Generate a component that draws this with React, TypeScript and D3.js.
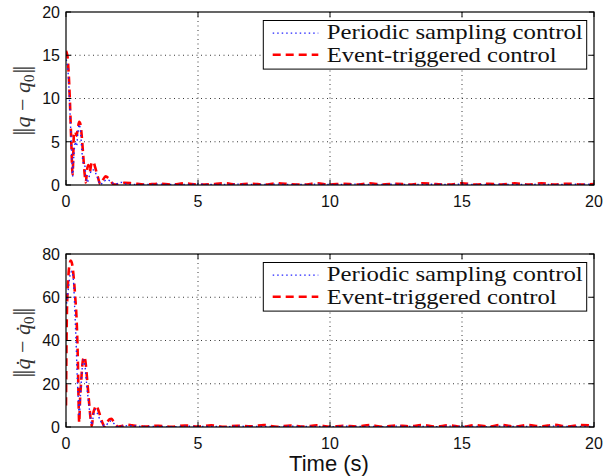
import React from 'react';
import * as d3 from 'd3';

const xTicks = [0, 5, 10, 15, 20];
const topYTicks = [0, 5, 10, 15, 20];
const botYTicks = [0, 20, 40, 60, 80];
const legendLabels = ['Periodic sampling control', 'Event-triggered control'];

const tailT = [2.5, 3, 3.5, 4, 4.5, 5, 5.5, 6, 6.5, 7, 7.5, 8, 8.5, 9, 9.5, 10, 10.5, 11, 11.5, 12, 12.5, 13, 13.5, 14, 14.5, 15, 15.5, 16, 16.5, 17, 17.5, 18, 18.5, 19, 19.5, 20];

// top panel ||q - q0||
const topPeriodicT = [0, 0.05, 0.1, 0.15, 0.2, 0.25, 0.3, 0.35, 0.4, 0.45, 0.5, 0.55, 0.6, 0.65, 0.7, 0.75, 0.8, 0.9, 1.0, 1.1, 1.2, 1.3, 1.4, 1.55, 1.7, 1.85, 2.1, 2.3];
const topPeriodicV = [14.5, 14, 12, 8.5, 4.8, 1.0, 3.5, 5.0, 4.5, 6.0, 7.0, 6.2, 4.0, 2.6, 2.5, 1.2, 0.3, 1.2, 1.8, 1.5, 0.8, 0.05, 0.3, 0.6, 0.4, 0.1, 0.3, 0.1];
const topPeriodicTail = [0.05, 0.05, 0.1, 0.05, 0.05, 0.1, 0.05, 0.05, 0.1, 0.05, 0.05, 0.1, 0.05, 0.05, 0.1, 0.05, 0.05, 0.1, 0.05, 0.05, 0.1, 0.05, 0.05, 0.1, 0.05, 0.1, 0.05, 0.05, 0.1, 0.05, 0.05, 0.1, 0.05, 0.05, 0.1, 0.05];

const topEventT = [0, 0.05, 0.1, 0.15, 0.2, 0.25, 0.3, 0.35, 0.4, 0.45, 0.5, 0.55, 0.6, 0.65, 0.7, 0.75, 0.8, 0.85, 0.9, 0.95, 1.0, 1.05, 1.1, 1.2, 1.3, 1.4, 1.5, 1.6, 1.7, 1.8, 1.9, 2.0, 2.2];
const topEventV = [15.5, 15, 13, 9.5, 5, 1.2, 5.8, 6.2, 5.7, 6.6, 7.3, 7.0, 5.5, 3.5, 1.5, 0.3, 1.8, 2.3, 1.5, 2.3, 2.7, 2.6, 2.1, 1.0, 0.1, 0.6, 1.0, 0.8, 0.4, 0.1, 0.05, 0.1, 0.25];
const topEventTail = [0.2, 0.05, 0.15, 0.05, 0.2, 0.05, 0.1, 0.2, 0.05, 0.15, 0.05, 0.2, 0.1, 0.05, 0.2, 0.05, 0.15, 0.05, 0.2, 0.05, 0.15, 0.05, 0.2, 0.1, 0.05, 0.2, 0.05, 0.15, 0.05, 0.2, 0.05, 0.2, 0.05, 0.15, 0.05, 0.1];

// bottom panel ||qdot - qdot0||
const botPeriodicT = [0, 0.05, 0.1, 0.15, 0.22, 0.28, 0.33, 0.38, 0.43, 0.47, 0.5, 0.55, 0.6, 0.66, 0.72, 0.78, 0.85, 0.92, 0.97, 1.05, 1.12, 1.2, 1.3, 1.4, 1.5, 1.6, 1.7, 1.8, 1.95, 2.2];
const botPeriodicV = [55, 60, 65, 70, 72, 68, 55, 40, 22, 12, 5, 15, 25, 31, 28, 20, 12, 5, 1, 6, 8, 6, 3, 1, 0.5, 2, 2.8, 1.8, 0.3, 0.5];
const botPeriodicTail = [0.6, 0.2, 0.3, 0.1, 0.4, 0.2, 0.3, 0.1, 0.4, 0.2, 0.3, 0.1, 0.4, 0.2, 0.3, 0.1, 0.4, 0.2, 0.3, 0.1, 0.4, 0.2, 0.3, 0.1, 0.4, 0.2, 0.3, 0.1, 0.4, 0.2, 0.3, 0.1, 0.4, 0.2, 0.3, 0.2];

const botEventT = [0, 0.03, 0.07, 0.12, 0.18, 0.25, 0.3, 0.35, 0.4, 0.45, 0.48, 0.5, 0.53, 0.58, 0.63, 0.69, 0.75, 0.8, 0.87, 0.93, 0.98, 1.03, 1.1, 1.15, 1.22, 1.3, 1.38, 1.46, 1.55, 1.65, 1.72, 1.8, 1.9, 1.97, 2.1, 2.3];
const botEventV = [10, 50, 65, 74, 77, 74, 68, 60, 50, 30, 10, 2, 12, 22, 30, 32.5, 29, 22, 12, 4, 0.5, 6, 9, 10, 8, 5, 2, 0.3, 2, 3.6, 3.8, 2.5, 0.8, 0.1, 0.4, 1.1];
const botEventTail = [0.8, 0.2, 0.6, 0.1, 0.7, 0.2, 0.8, 0.1, 0.6, 0.3, 0.9, 0.1, 0.7, 0.2, 0.8, 0.1, 0.6, 0.2, 0.9, 0.1, 0.7, 0.3, 0.9, 0.2, 0.8, 0.1, 0.9, 0.2, 1.0, 0.2, 0.9, 0.3, 1.0, 0.2, 0.9, 0.6];

const L = 66, R = 594;
const x = d3.scaleLinear().domain([0, 20]).range([L, R]);

function pts(t: number[], v: number[], tail: number[]) {
  const a = t.map((tt, i) => [tt, v[i]] as [number, number]);
  tailT.forEach((tt, i) => a.push([tt, tail[i]]));
  return a;
}

const tickFont = 'Liberation Sans, Arial, Helvetica, sans-serif';
const serif = 'Liberation Serif, Times New Roman, serif';

function Panel(props: { id: string; top: number; bottom: number; max: number; yTicks: number[]; blue: [number, number][]; red: [number, number][]; dot: boolean }) {
  const { id, top, bottom, max, yTicks, blue, red, dot } = props;
  const y = d3.scaleLinear().domain([0, max]).range([bottom, top]);
  const line = d3.line<[number, number]>().x(d => x(d[0])).y(d => y(d[1])).curve(d3.curveMonotoneX);
  const lt = top + 8.5;
  const cy = (top + bottom) / 2;
  const q = dot ? 'q\u0307' : 'q';
  return (
    <g>
      <defs>
        <clipPath id={id}><rect x={L} y={top - 2} width={R - L} height={bottom - top + 2} /></clipPath>
      </defs>
      <rect x={L} y={top} width={R - L} height={bottom - top} fill="#fff" />
      {xTicks.slice(1, -1).map(t => (
        <line key={'gx' + t} x1={x(t)} x2={x(t)} y1={top} y2={bottom} stroke="#222" strokeWidth={0.9} strokeDasharray="1,3.5" />
      ))}
      {yTicks.slice(1, -1).map(t => (
        <line key={'gy' + t} x1={L} x2={R} y1={y(t)} y2={y(t)} stroke="#222" strokeWidth={0.9} strokeDasharray="1,3.5" />
      ))}
      <g clipPath={`url(#${id})`}>
        <path d={line(red) || ''} fill="none" stroke="#ff0000" strokeWidth={2.6} strokeDasharray="8,5" />
        <path d={line(blue) || ''} fill="none" stroke="#2222ff" strokeWidth={1.4} strokeDasharray="1.5,3" />
      </g>
      {xTicks.map(t => (
        <g key={'tx' + t}>
          <line x1={x(t)} x2={x(t)} y1={bottom} y2={bottom - 5} stroke="#000" />
          <line x1={x(t)} x2={x(t)} y1={top} y2={top + 5} stroke="#000" />
          <text x={x(t)} y={bottom + 21.5} textAnchor="middle" fontFamily={tickFont} fontSize={16} fill="#111">{t}</text>
        </g>
      ))}
      {yTicks.map(t => (
        <g key={'ty' + t}>
          <line x1={L} x2={L + 5} y1={y(t)} y2={y(t)} stroke="#000" />
          <line x1={R} x2={R - 5} y1={y(t)} y2={y(t)} stroke="#000" />
          <text x={60} y={y(t)} dy="0.36em" textAnchor="end" fontFamily={tickFont} fontSize={16} fill="#111">{t}</text>
        </g>
      ))}
      <rect x={L} y={top} width={R - L} height={bottom - top} fill="none" stroke="#000" strokeWidth={1.2} />
      <g transform={`translate(30,${cy + 3}) rotate(-90)`}>
        <text textAnchor="middle" fontFamily={serif} fontSize={22} fill="#333">
          <tspan fontSize={25} letterSpacing={-2}>||</tspan>
          <tspan dx={2} fontStyle="italic">{q}</tspan>
          <tspan> − </tspan>
          <tspan fontStyle="italic">{q}</tspan>
          <tspan fontSize={15} dy={4}>0</tspan>
          <tspan fontSize={25} dy={-4} dx={1} letterSpacing={-2}>||</tspan>
        </text>
      </g>
      <rect x={263.3} y={lt} width={323.4} height={48.6} fill="#fff" stroke="#000" strokeWidth={1} />
      <line x1={272.7} x2={318.3} y1={lt + 12.6} y2={lt + 12.6} stroke="#2222ff" strokeWidth={1.4} strokeDasharray="1.5,3" />
      <line x1={272.7} x2={318.3} y1={lt + 34.3} y2={lt + 34.3} stroke="#ff0000" strokeWidth={2.6} strokeDasharray="8,5" />
      <text x={326.7} y={lt + 18.6} fontFamily={serif} fontSize={21} fill="#111" textLength={256} lengthAdjust="spacingAndGlyphs">{legendLabels[0]}</text>
      <text x={326.7} y={lt + 41} fontFamily={serif} fontSize={21} fill="#111" textLength={230} lengthAdjust="spacingAndGlyphs">{legendLabels[1]}</text>
    </g>
  );
}

export default function App() {
  return (
    <svg width={607} height={476} style={{ position: 'absolute', left: 0, top: 0, background: '#fff' }}>
      <rect width={607} height={476} fill="#fff" />
      <Panel id="c1" top={12} bottom={185} max={20} yTicks={topYTicks}
        blue={pts(topPeriodicT, topPeriodicV, topPeriodicTail)} red={pts(topEventT, topEventV, topEventTail)} dot={false} />
      <Panel id="c2" top={254} bottom={427} max={80} yTicks={botYTicks}
        blue={pts(botPeriodicT, botPeriodicV, botPeriodicTail)} red={pts(botEventT, botEventV, botEventTail)} dot={true} />
      <text x={329} y={471} textAnchor="middle" fontFamily={tickFont} fontSize={22} fill="#111">Time (s)</text>
    </svg>
  );
}
